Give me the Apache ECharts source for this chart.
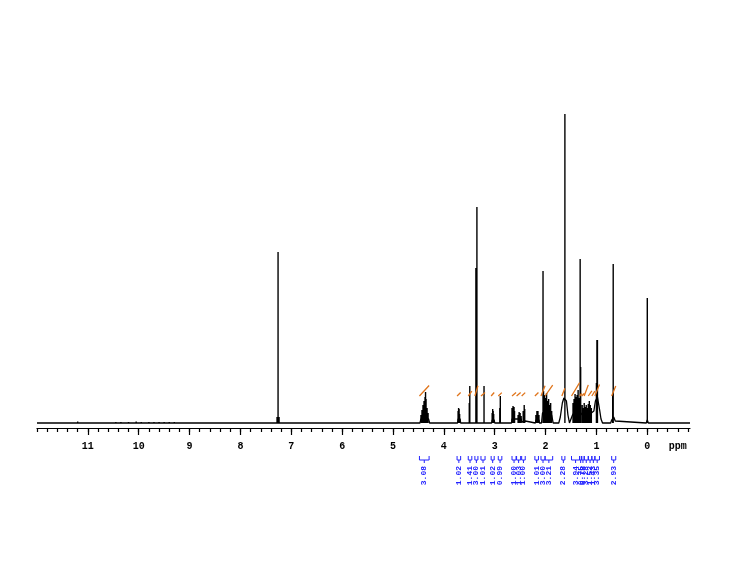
<!DOCTYPE html>
<html>
<head>
<meta charset="utf-8">
<script src="https://cdn.jsdelivr.net/npm/echarts@6/dist/echarts.min.js"></script>
<style>
  html, body { margin: 0; padding: 0; background: #fff; }
  #chart { width: 733px; height: 568px; }
</style>
</head>
<body>
<div id="chart"></div>
<script>
// ppm axis
const ppmMin = -0.84;
const ppmMax = 12;
const majorTicks = [0, 1, 2, 3, 4, 5, 6, 7, 8, 9, 10, 11];
const minorTicks = [-0.8, -0.6, -0.4, -0.2, 0, 0.2, 0.4, 0.6, 0.8, 1, 1.2, 1.4, 1.6, 1.8, 2, 2.2, 2.4, 2.6, 2.8, 3, 3.2, 3.4, 3.6, 3.8, 4, 4.2, 4.4, 4.6, 4.8, 5, 5.2, 5.4, 5.6, 5.8, 6, 6.2, 6.4, 6.6, 6.8, 7, 7.2, 7.4, 7.6, 7.8, 8, 8.2, 8.4, 8.6, 8.8, 9, 9.2, 9.4, 9.6, 9.8, 10, 10.2, 10.4, 10.6, 10.8, 11, 11.2, 11.4, 11.6, 11.8, 12];
const unitLabelAt = -0.6;

// sharp lines (ppm, intensity)
const peakPpm = [
  11.2, 10.45, 10.35, 10.2, 10.05, 9.95, 9.8, 9.7, 9.6, 9.5, 9.4, 9.3,
  7.28, 7.26, 7.24,
  4.45, 4.43, 4.41, 4.39, 4.37, 4.36, 4.35, 4.33, 4.31,
  3.72, 3.71, 3.70, 3.69,
  3.50, 3.49,
  3.37, 3.36, 3.35,
  3.21,
  3.05, 3.04, 3.03, 3.02,
  2.90, 2.89,
  2.66, 2.64, 2.62, 2.61,
  2.54, 2.52, 2.50, 2.48,
  2.44, 2.42, 2.41,
  2.19, 2.17, 2.15, 2.13,
  2.05, 2.04, 2.02, 2.00, 1.98, 1.96, 1.94, 1.92, 1.90, 1.88,
  1.62,
  1.46, 1.44, 1.42, 1.40, 1.38, 1.36, 1.34, 1.32, 1.31,
  1.28, 1.26, 1.24, 1.22, 1.20, 1.18, 1.16, 1.14, 1.12, 1.10,
  1.00, 0.99, 0.98,
  0.68, 0.67,
  0.00
];
const peakInt = [
  1.5, 1, 1, 1, 1.5, 1, 1, 1, 1, 1, 1, 1,
  6, 171, 6,
  8, 13, 18, 22, 26, 31, 24, 15, 10,
  12, 15, 14, 9,
  20, 37,
  155, 100, 216,
  37,
  10, 14, 12, 9,
  15, 27,
  15, 17, 16, 12,
  8, 11, 10, 7,
  12, 18, 14,
  8, 12, 12, 8,
  152, 32, 28, 25, 30, 22, 24, 18, 20, 12,
  309,
  20, 24, 29, 26, 28, 33, 25, 164, 56,
  18, 15, 20, 16, 18, 15, 19, 22, 18, 15,
  40, 83, 83,
  30, 159,
  125
];

// broad envelope under the multiplets (ppm, intensity)
const envPpm = [12, 4.47, 4.45, 4.30, 4.28, 3.73, 3.72, 3.68, 3.67, 3.06, 3.05, 3.01, 3.00,
  2.67, 2.66, 2.48, 2.47, 2.40, 2.38, 2.20, 2.19, 2.13, 2.12, 2.08, 2.06, 1.96, 1.88, 1.85,
  1.74, 1.71, 1.67, 1.64, 1.62, 1.59, 1.56, 1.53,
  1.50, 1.47, 1.40, 1.33, 1.28, 1.20, 1.10, 1.05, 1.02, 0.98, 0.94, 0.91, 0.88,
  0.72, 0.70, 0.66, 0.63, 0.60, 0.02, 0.00, -0.02, -0.84];
const envInt = [0, 0, 4, 4, 0, 0, 4, 4, 0, 0, 3, 3, 0,
  0, 4, 4, 1, 2, 0, 0, 3, 3, 0, 0, 10, 14, 8, 0,
  0, 6, 20, 25, 26, 22, 8, 0,
  0, 8, 14, 12, 8, 8, 10, 12, 22, 26, 14, 4, 0,
  0, 3, 6, 2, 0, 0, 3, 0, 0];

// integrals
const intFrom = [4.48, 3.74, 3.52, 3.39, 3.27, 3.07, 2.93, 2.66, 2.57, 2.47, 2.21, 2.09, 2.01, 1.68,
  1.49, 1.33, 1.29, 1.24, 1.16, 1.09, 1.03, 0.70];
const intTo = [4.29, 3.67, 3.45, 3.33, 3.19, 3.01, 2.86, 2.58, 2.49, 2.40, 2.14, 2.01, 1.86, 1.62,
  1.33, 1.29, 1.24, 1.16, 1.09, 1.03, 0.94, 0.62];
const intLabels = ["3.08", "1.02", "1.41", "3.00", "1.01", "1.02", "0.99", "1.00", "1.03", "1.00", "1.01", "3.00", "3.21", "2.28",
  "3.94", "0.75", "0.78", "3.28", "1.52", "1.43", "3.35", "2.93"];

const intBase = 27;
const intScale = 3.4;

const stickData = [];
peakPpm.forEach((p, i) => {
  stickData.push([p, 0], [p, peakInt[i]], [p, NaN]);
});
const envData = envPpm.map((p, i) => [p, envInt[i]]);
const intCurve = [];
intFrom.forEach((f, i) => {
  intCurve.push([f, intBase], [intTo[i], intBase + parseFloat(intLabels[i]) * intScale], [intTo[i], NaN]);
});
const intItems = intFrom.map((f, i) => [f, intTo[i], i]);

const labelFont = '"Liberation Mono", "DejaVu Sans Mono", monospace';

const chart = echarts.init(document.getElementById("chart"));
chart.setOption({
  animation: false,
  backgroundColor: "#ffffff",
  grid: { left: 37, right: 43, top: 108, bottom: 140 },
  xAxis: [
    {
      type: "value",
      inverse: true,
      min: ppmMin,
      max: ppmMax,
      position: "bottom",
      axisLine: { show: true, onZero: false, lineStyle: { color: "#000", width: 1.2 } },
      axisTick: { show: true, customValues: majorTicks, length: 7, lineStyle: { color: "#000", width: 1.2 } },
      axisLabel: {
        customValues: majorTicks.concat([unitLabelAt]),
        formatter: (v) => (v < 0 ? "ppm" : String(v)),
        margin: 13,
        color: "#000",
        fontFamily: labelFont,
        fontWeight: "bold",
        fontSize: 10,
      },
      splitLine: { show: false },
    },
    {
      type: "value",
      inverse: true,
      min: ppmMin,
      max: ppmMax,
      position: "bottom",
      axisLine: { show: false, onZero: false },
      axisTick: { show: true, customValues: minorTicks, length: 4, lineStyle: { color: "#000", width: 1.2 } },
      axisLabel: { show: false },
      splitLine: { show: false },
    },
  ],
  yAxis: { type: "value", min: -5, max: 315, show: false },
  series: [
    {
      type: "line",
      data: envData,
      showSymbol: false,
      lineStyle: { color: "#000", width: 1.3 },
      silent: true,
    },
    {
      type: "line",
      data: stickData,
      showSymbol: false,
      connectNulls: false,
      lineStyle: { color: "#000", width: 1.4 },
      silent: true,
    },
    {
      type: "line",
      data: intCurve,
      showSymbol: false,
      connectNulls: false,
      lineStyle: { color: "#e0751c", width: 1.3 },
      silent: true,
    },
    {
      type: "custom",
      data: intItems,
      clip: false,
      silent: true,
      encode: { x: [0, 1] },
      renderItem: function (params, api) {
        const x1 = api.coord([api.value(0), 0])[0];
        const x2 = api.coord([api.value(1), 0])[0];
        const xm = (x1 + x2) / 2;
        const blue = "#2323ff";
        return {
          type: "group",
          children: [
            {
              type: "polyline",
              shape: { points: [[x1, 456], [x1, 460], [x2, 460], [x2, 456]] },
              style: { stroke: blue, fill: null, lineWidth: 1 },
            },
            {
              type: "line",
              shape: { x1: xm, y1: 460, x2: xm, y2: 463 },
              style: { stroke: blue, lineWidth: 1 },
            },
            {
              type: "text",
              x: xm,
              y: 466,
              rotation: Math.PI / 2,
              style: {
                text: intLabels[api.value(2)],
                fill: blue,
                font: "bold 8px " + labelFont,
                align: "right",
                verticalAlign: "middle",
              },
            },
          ],
        };
      },
    },
  ],
});
</script>
</body>
</html>
